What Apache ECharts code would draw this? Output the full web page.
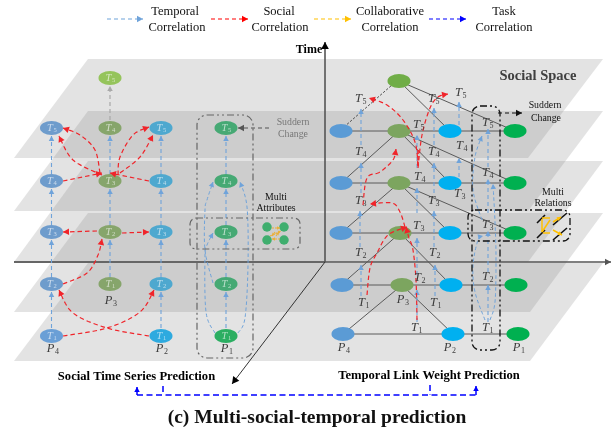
<!DOCTYPE html>
<html><head><meta charset="utf-8">
<style>html,body{margin:0;padding:0;background:#fff}#c{width:611px;height:429px}#c canvas{filter:blur(0.4px)}</style>
<script src="https://cdn.jsdelivr.net/npm/echarts@6/dist/echarts.min.js"></script>
</head><body><div id="c"></div>
<script>
const planes=[[[88,59],[603,59],[528,158],[14,158]],[[88,111],[603,111],[528,211],[14,211]],[[88,161],[603,161],[528,262],[14,262]],[[88,213],[603,213],[530,312],[14,312]],[[88,263],[603,263],[530,361],[14,361]]];
const axisThick=[[[14,262],[325,262]]];
const axisThin=[[[325,262],[611,262]],[[325,262],[325,42]],[[325,262],[232,384]]];
const edgesSolid=[[[341,131],[515,131]],[[341,183],[515,183]],[[341,233],[515,233]],[[342,285],[516,285]],[[343,334],[518,334]],
[[399,81],[450,131]],[[399,81],[515,131]],[[341,183],[399,131]],[[399,131],[450,183]],[[399,131],[515,183]],
[[341,233],[399,183]],[[399,183],[450,233]],[[399,183],[515,233]],[[341,285],[400,233]],[[400,233],[451,285]],[[343,334],[402,285]],[[402,285],[453,334]]];
const edgesDashed=[[[344,127],[392,85]]];
const temporalStraight=[
[[51.5,328],[51.5,292]],[[51.5,277],[51.5,240]],[[51.5,225],[51.5,189]],[[51.5,174],[51.5,136]],
[[110,277],[110,240]],[[110,225],[110,189]],[[110,174],[110,136]],
[[161,328],[161,292]],[[161,277],[161,240]],[[161,225],[161,189]],[[161,174],[161,136]],
[[226,328],[226,292]],[[226,277],[226,240]],[[226,225],[226,189]],[[226,174],[226,136]],
[[361,296],[361,265]],[[360,247],[360,211]],[[361,193],[361,163]],[[361,145],[361,109]],
[[435,296],[435,265]],[[434,247],[434,211]],[[434,193],[434,163]],[[434,145],[434,108]],
[[417,322],[417,290]],[[417,275],[417,238]],[[417,213],[417,188]],[[417,168],[417,135]],
[[459,177],[459,158]],[[459,125],[459,102]],
[[488,322],[488,285]],[[488,272],[488,231]],[[488,213],[488,179]],[[488,167],[488,129]]];
const temporalCurved=[
[[215,333],[206,312],[205,255],[207,245],[213,233]],
[[213,283],[205,250],[205,210],[207,200],[213,182]],
[[238,333],[245,318],[248,265],[247,207],[240,182]],
[[485,320],[475,292],[473,265],[478,240],[483,236]],
[[490,320],[495,302],[496,258],[495,222],[493,184]],
[[482,220],[473,190],[475,157],[482,136]]];
const greyArrow=[[[110,120],[110,86]]];
const socialCurves=[
[[100,173],[95,150],[80,135],[63,128]],
[[102,175],[73,160],[59,136]],
[[118,175],[120,157],[133,135],[149,127]],
[[120,173],[140,157],[153,135]],
[[63,181],[102,173]],
[[149,181],[110,173]],
[[97,231],[63,232]],
[[122,233],[149,232]],
[[63,284],[87,273],[98,255],[102,239]],
[[63,336],[107,328],[140,312],[154,290]],
[[149,336],[107,328],[73,313],[59,290]],
[[418,165],[415,142],[403,120],[387,105],[369,98]],
[[418,168],[422,135],[430,108],[438,97],[448,94]],
[[363,205],[367,178],[380,172],[393,160],[396,149]],
[[405,227],[400,212],[392,203],[370,204]],
[[367,295],[370,268],[377,253],[388,235],[407,227]],
[[417,320],[416,280],[413,250],[409,238],[406,227]]];
const socialThick=[[[418,150],[418,168]]];
const suddenLeft=[[[269,128],[238,128]]];
const suddenRight=[[[498,113],[522,113]]];
const legendTemporal=[[[107,19],[143,19]]];
const legendSocial=[[[211,19],[248,19]]];
const legendCollab=[[[314,19],[351,19]]];
const legendTask=[[[429,19],[466,19]]];
const taskBracket=[[[476,395],[476,386]],[[137,395],[137,387]]];
const taskLines=[[[137,395],[476,395]],[[163,386],[163,395]],[[430,385],[430,395]]];
const collabIcon=[[[272,228],[280,228]],[[280,239],[272,239]],[[270,236],[281,231]],[[275,232],[272,236]],[[276,236],[279,232]]];
const collabIconR=[[[542,218],[550,218]],[[542,219],[542,232]],[[550,220],[542,232]],[[543,233],[550,233]]];
const collabIconRHeads=[[[553,222],[561,217]],[[553,230],[562,235]]];
const blackDashes=[[[537,223],[545,215]],[[553,225],[567,213]],[[537,238],[545,230]],[[553,240],[567,228]]];
const boxesGrey=[[197,115,253,358,10],[190,218,300,249,6]];
const boxesBlack=[[472,106,500,350,8],[468,210,570,241,7]];
const nodesP4L=[[51.5,128],[51.5,181],[51.5,232],[51.5,284]],nodesP4LB=[[51.5,336]];
const nodesP3L=[[110,128],[110,181],[110,232],[110,284]],nodesP3LTop=[[110,78]];
const nodesP2L=[[161,128],[161,181],[161,232],[161,284]],nodesP2LB=[[161,336]];
const nodesP1L=[[226,128],[226,181],[226,232],[226,284]],nodesP1LB=[[226,336]];
const nodesP4R=[[341,131],[341,183],[341,233],[342,285],[343,334]];
const nodesP3R=[[399,81],[399,131],[399,183],[400,233],[402,285]];
const nodesP2R=[[450,131],[450,183],[450,233],[451,285],[453,334]];
const nodesP1R=[[515,131],[515,183],[515,233],[516,285],[518,334]];
const attrDots=[[267,227],[284,227],[267,240],[284,240]];
const leftT=[["5",110,78],["5",51.5,128],["4",110,128],["5",161,128],["5",226,128],["4",51.5,181],["3",110,181],["4",161,181],["4",226,181],["3",51.5,232],["2",110,232],["3",161,232],["3",226,232],["2",51.5,284],["1",110,284],["2",161,284],["2",226,284],["1",51.5,336],["1",161,336],["1",226,336]];
const rightT=[["5",360,99],["4",360,152],["3",360,201],["2",360,253],["1",363,303],["5",418,125],["4",419,177],["3",418,226],["2",419,278],["1",416,328],["5",433,99],["4",433,152],["3",433,201],["2",434,253],["1",435,303],["5",460,93],["4",461,146],["3",459,194],["5",487,123],["4",487,173],["3",487,225],["2",487,277],["1",487,328]];
const pLabels=[["4",52,349],["3",110,301],["2",161,349],["1",226,349],["4",343,348],["3",402,300],["2",449,348],["1",518,348]];
const serifTexts=[["Temporal",175,12],["Correlation",177,28],["Social",279,12],["Correlation",280,28],["Collaborative",390,12],["Correlation",390,28],["Task",504,12],["Correlation",504,28]];
const smallBlack=[["Multi",276,197],["Attributes",276,208],["Multi",553,192],["Relations",553,203],["Suddern",545,105],["Change",546,118]];
const smallGrey=[["Suddern",293,122],["Change",293,134]];
const boldSmall=[["Social Time Series Prediction",136.5,377],["Temporal Link Weight Prediction",429,376]];
const timeLabel=[["Time",309,50]];
const spaceTitle=[["Social Space",538,76]];
const caption=[["(c) Multi-social-temporal prediction",317,418]];

const SERIF='"Liberation Serif","Times New Roman",serif';
let z=1;
function spline(pts){
  if(pts.length<3)return pts;
  const out=[pts[0]];
  for(let i=0;i<pts.length-1;i++){
    const p0=pts[Math.max(i-1,0)],p1=pts[i],p2=pts[i+1],p3=pts[Math.min(i+2,pts.length-1)];
    for(let k=1;k<=10;k++){const t=k/10,t2=t*t,t3=t2*t;
      out.push([0,1].map(d=>0.5*(2*p1[d]+(p2[d]-p0[d])*t+(2*p0[d]-5*p1[d]+4*p2[d]-p3[d])*t2+(3*p1[d]-p0[d]-3*p2[d]+p3[d])*t3)));}
  }
  return out;
}
function arrowHead(a,b,size,color){
  const ang=Math.atan2(b[1]-a[1],b[0]-a[0]),w=size*0.55;
  const bx=b[0]-size*Math.cos(ang),by=b[1]-size*Math.sin(ang);
  return {type:'polygon',shape:{points:[b,[bx-w*Math.sin(ang),by+w*Math.cos(ang)],[bx+w*Math.sin(ang),by-w*Math.cos(ang)]]},style:{fill:color}};
}
function lineSeries(name,curves,o){
  return {type:'custom',name,coordinateSystem:'cartesian2d',z:z++,clip:false,silent:true,
    data:curves.map(c=>c[0]),encode:{x:0,y:1},
    renderItem(p,api){
      const pts=spline(curves[p.dataIndex].map(q=>api.coord(q)));
      const kids=[{type:'polyline',shape:{points:pts},style:{fill:null,stroke:o.color,lineWidth:o.width||1,lineDash:o.dash||null}}];
      if(o.arrow){kids.push(arrowHead(pts[Math.max(pts.length-4,0)],pts[pts.length-1],o.arrow,o.head||o.color));}
      return {type:'group',children:kids};
    }};
}
function polySeries(name,polys,fill){
  return {type:'custom',name,coordinateSystem:'cartesian2d',z:z++,clip:false,silent:true,
    data:polys.map(c=>c[0]),encode:{x:0,y:1},
    renderItem(p,api){return {type:'polygon',shape:{points:polys[p.dataIndex].map(q=>api.coord(q))},style:{fill}};}};
}
function boxSeries(name,boxes,color,width){
  return {type:'custom',name,coordinateSystem:'cartesian2d',z:z++,clip:false,silent:true,
    data:boxes.map(b=>[b[0],b[1]]),encode:{x:0,y:1},
    renderItem(p,api){const b=boxes[p.dataIndex],s=api.coord([b[0],b[1]]),e=api.coord([b[2],b[3]]);
      return {type:'rect',shape:{x:s[0],y:s[1],width:e[0]-s[0],height:e[1]-s[1],r:b[4]},style:{fill:null,stroke:color,lineWidth:width,lineDash:[7,3,2,3,2,3]}};}};
}
function nodeSeries(name,pts,color,size,extra){
  return {type:'scatter',name,z:z++,silent:true,symbol:'circle',symbolSize:size||[23,14],data:pts,clip:false,itemStyle:Object.assign({color,opacity:1},extra||{})};
}
function textSeries(name,items,st){
  return {type:'custom',name,coordinateSystem:'cartesian2d',z:z++,clip:false,silent:true,
    data:items.map(t=>[t[1],t[2]]),encode:{x:0,y:1},
    renderItem(p,api){const t=items[p.dataIndex],c=api.coord([t[1],t[2]]);
      return {type:'text',style:Object.assign({text:t[0],x:c[0],y:c[1],align:'center',verticalAlign:'middle',fontFamily:SERIF},st)};}};
}
function subSeries(name,items,letter,color,fs,sfs,sdx,sdy){
  return {type:'custom',name,coordinateSystem:'cartesian2d',z:z++,clip:false,silent:true,
    data:items.map(t=>[t[1],t[2]]),encode:{x:0,y:1},
    renderItem(p,api){const t=items[p.dataIndex],c=api.coord([t[1],t[2]]);
      return {type:'group',children:[
        {type:'text',style:{text:letter,x:c[0]-1.5,y:c[1],align:'center',verticalAlign:'middle',fontFamily:SERIF,fontStyle:'italic',fontSize:fs,fill:color}},
        {type:'text',style:{text:t[0],x:c[0]+sdx,y:c[1]+sdy,align:'center',verticalAlign:'middle',fontFamily:SERIF,fontSize:sfs,fill:color}}]};}};
}
const BLUE='#6fa3da',RED='#f0242a',DASH=[4,3];
const series=[
  polySeries('planes',planes,'rgba(128,128,128,0.22)'),
  lineSeries('axisThick',axisThick,{color:'#666',width:2}),
  lineSeries('axisThin',axisThin.slice(0,1),{color:'#555',width:1.3,arrow:6}),
  lineSeries('axisTime',axisThin.slice(1,2),{color:'#555',width:1.6,arrow:7,head:'#000'}),
  lineSeries('axisDepth',axisThin.slice(2),{color:'#333',width:1,arrow:7,head:'#000'}),
  lineSeries('edges',edgesSolid,{color:'#5a5a5a',width:1}),
  lineSeries('edgesDashed',edgesDashed,{color:'#444',width:0.9,dash:[2.5,1.5]}),
  lineSeries('temporalStraight',temporalStraight,{color:BLUE,width:1.1,dash:DASH,arrow:5}),
  lineSeries('temporalCurved',temporalCurved,{color:BLUE,width:1,dash:[3.5,2.5],arrow:5}),
  lineSeries('greyArrow',greyArrow,{color:'#a8a8a8',width:1.2,dash:DASH,arrow:5}),
  boxSeries('boxesGrey',boxesGrey,'#666',1.2),
  boxSeries('boxesBlack',boxesBlack,'#111',1.3),
  nodeSeries('p4l',nodesP4L,'#6e9ccc'),nodeSeries('p4lb',nodesP4LB,'#6a9fd6'),
  nodeSeries('p3l',nodesP3L,'#86a56b'),nodeSeries('p3top',nodesP3LTop,'#95c45b'),
  nodeSeries('p2l',nodesP2L,'#4ea8cf'),nodeSeries('p2lb',nodesP2LB,'#2eaadf'),
  nodeSeries('p1l',nodesP1L,'#46a974'),nodeSeries('p1lb',nodesP1LB,'#2bae62'),
  nodeSeries('p4r',nodesP4R,'#5b9bd5'),
  nodeSeries('p3rtop',nodesP3R.slice(0,1),'#70ad47'),nodeSeries('p3r',nodesP3R.slice(1),'#7ca55f'),
  nodeSeries('p2r',nodesP2R,'#00b0f0'),nodeSeries('p1r',nodesP1R,'#00b050'),
  nodeSeries('attr',attrDots,'#3fae6e',[9.5,9.5]),
  lineSeries('social',socialCurves,{color:RED,width:1.2,dash:[4.5,3],arrow:6}),
  lineSeries('socialThick',socialThick,{color:RED,width:1.6,dash:[4,2]}),
  lineSeries('suddenL',suddenLeft,{color:'#555',width:1.1,dash:DASH,arrow:6}),
  lineSeries('suddenR',suddenRight,{color:'#111',width:1.1,dash:DASH,arrow:6}),
  lineSeries('blackDashes',blackDashes,{color:'#111',width:1.6}),
  lineSeries('collabIcon',collabIcon,{color:'#e9b03a',width:1.1,dash:[2,1],arrow:3}),
  lineSeries('collabIconR',collabIconR,{color:'#ffc000',width:1.5}),
  lineSeries('collabIconRHeads',collabIconRHeads,{color:'#ffc000',width:1.5,arrow:4}),
  lineSeries('legendT',legendTemporal,{color:BLUE,width:1.1,dash:DASH,arrow:6}),
  lineSeries('legendS',legendSocial,{color:'#ff0000',width:1.1,dash:DASH,arrow:6}),
  lineSeries('legendC',legendCollab,{color:'#ffc000',width:1.1,dash:DASH,arrow:6}),
  lineSeries('legendK',legendTask,{color:'#0000ff',width:1.1,dash:DASH,arrow:6}),
  lineSeries('task',taskLines,{color:'#0000ff',width:1.5,dash:[6,3.5]}),
  lineSeries('taskBracket',taskBracket,{color:'#0000ff',width:1.5,arrow:5}),
  subSeries('leftT',leftT,'T','rgba(255,255,255,0.62)',10.5,6.5,3.5,2.5),
  subSeries('rightT',rightT,'T','#3c3c3c',12.5,8,4.5,3),
  subSeries('pLabels',pLabels,'P','#3c3c3c',12.5,8,5,3),
  textSeries('serif',serifTexts,{fontSize:12.5,fill:'#111'}),
  textSeries('small',smallBlack,{fontSize:9.8,fill:'#111'}),
  textSeries('smallGrey',smallGrey,{fontSize:9.8,fill:'#777'}),
  textSeries('bold',boldSmall,{fontSize:12.6,fontWeight:'bold',fill:'#000'}),
  textSeries('time',timeLabel,{fontSize:12,fontWeight:'bold',fill:'#000'}),
  textSeries('space',spaceTitle,{fontSize:14.5,fontWeight:'bold',fill:'#404040'}),
  textSeries('caption',caption,{fontSize:19.5,fontWeight:'bold',fill:'#111'})
];
const chart=echarts.init(document.getElementById('c'),null,{renderer:'canvas'});
chart.setOption({animation:false,backgroundColor:'#fff',
  grid:{left:0,right:0,top:0,bottom:0},
  xAxis:{type:'value',min:0,max:611,show:false},
  yAxis:{type:'value',min:0,max:429,inverse:true,show:false},
  series});
</script></body></html>
